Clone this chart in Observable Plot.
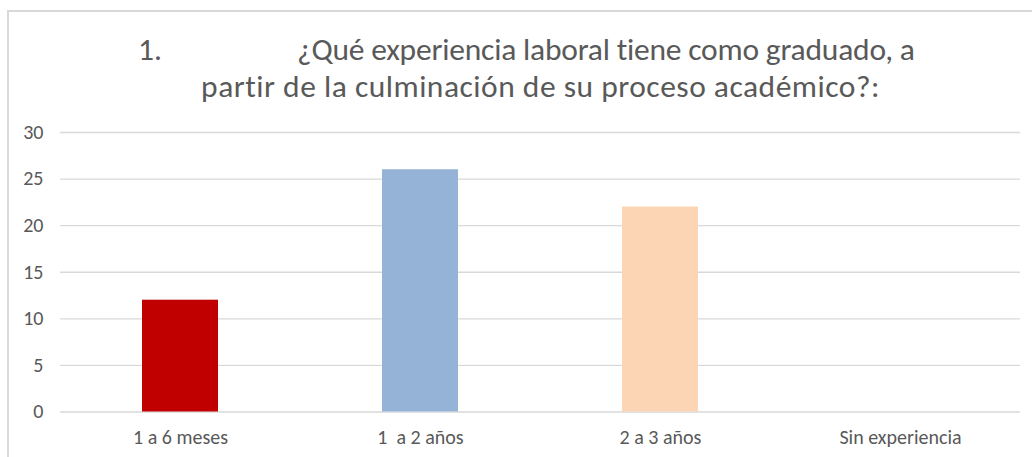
<!DOCTYPE html>
<html><head><meta charset="utf-8">
<script src="https://cdn.jsdelivr.net/npm/d3@7"></script>
<script src="https://cdn.jsdelivr.net/npm/@observablehq/plot@0.6"></script>
<style>
html,body{margin:0;padding:0;background:#fff;overflow:hidden;}
#frame{position:absolute;left:7px;top:10px;width:1040px;height:460px;border-left:2px solid #d9d9d9;border-top:2px solid #d9d9d9;}
#title{position:absolute;left:0;top:0;width:1032px;height:110px;font-family:Carlito,"Liberation Sans Narrow","Open Sans",sans-serif;color:#595959;font-size:31.5px;line-height:1;}
#t1{position:absolute;left:138px;top:34px;white-space:nowrap;}
#t1b{position:absolute;left:297px;top:34px;white-space:nowrap;letter-spacing:-0.2px;}
#t2{position:absolute;left:0;width:1081px;top:71px;text-align:center;white-space:nowrap;letter-spacing:0.5px;}
#chart{position:absolute;left:0;top:110px;}
</style></head>
<body>
<div id="frame"></div>
<div id="title"><span id="t1">1.</span><span id="t1b">¿Qué experiencia laboral tiene como graduado, a</span><div id="t2">partir de la culminación de su proceso académico?:</div></div>
<div id="chart"></div>
<script>
const categories = ["1 a 6 meses", "1  a 2 años", "2 a 3 años", "Sin experiencia"];
const values = [12, 26, 22, 0];
const colors = ["#C00000", "#95B3D7", "#FCD5B5", "#A5A5A5"];
const yTicks = [0, 5, 10, 15, 20, 25, 30];

const data = categories.map((c, i) => ({category: c, value: values[i], color: colors[i]}));

const chart = Plot.plot({
  width: 1032,
  height: 347,
  marginLeft: 60,
  marginRight: 12,
  marginTop: 22,
  marginBottom: 45.5,
  style: {fontFamily: 'Carlito, "Liberation Sans Narrow", "Open Sans", sans-serif', fontSize: "20px", color: "#595959", background: "transparent"},
  x: {domain: categories, paddingInner: 0.683, paddingOuter: 0.3415, label: null},
  y: {domain: [0, 30], label: null},
  marks: [
    Plot.ruleY(yTicks, {stroke: "#d9d9d9", strokeWidth: 1.3}),
    Plot.barY(data, {x: "category", y: "value", fill: "color"}),
    Plot.axisY({ticks: yTicks, tickSize: 0, tickPadding: 17, label: null, fill: "#595959", fontSize: 20}),
    Plot.axisX({tickSize: 0, tickPadding: 18, label: null, fill: "#595959", fontSize: 20})
  ]
});
document.getElementById("chart").appendChild(chart);
</script>
</body></html>
